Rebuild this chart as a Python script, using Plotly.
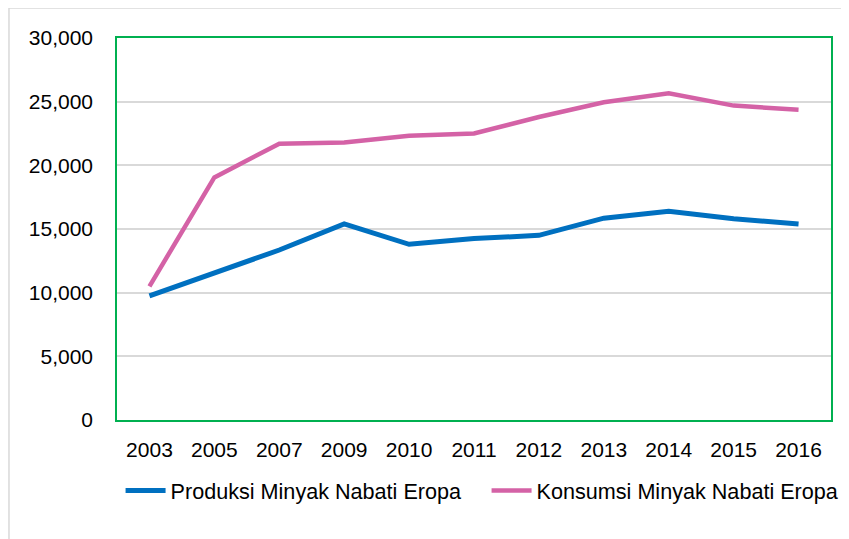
import plotly.graph_objects as go

years = ["2003", "2005", "2007", "2009", "2010", "2011", "2012", "2013", "2014", "2015", "2016"]
produksi = [9750, 11550, 13350, 15400, 13800, 14250, 14500, 15850, 16400, 15800, 15400]
konsumsi = [10500, 19050, 21700, 21800, 22330, 22500, 23800, 24950, 25650, 24690, 24370]
y_ticks = [0, 5000, 10000, 15000, 20000, 25000, 30000]

FONT = "Liberation Sans"

fig = go.Figure()
fig.add_trace(go.Scatter(x=years, y=produksi, mode="lines", name="Produksi Minyak Nabati Eropa",
                         line=dict(color="#0070C0", width=5), legend="legend"))
fig.add_trace(go.Scatter(x=years, y=konsumsi, mode="lines", name="Konsumsi Minyak Nabati Eropa",
                         line=dict(color="#D462A6", width=4.5), legend="legend2"))

legend_style = dict(orientation="h", xanchor="left", y=-0.131, yanchor="top",
                    font=dict(family=FONT, size=21.6, color="#000000"), itemwidth=40,
                    bgcolor="rgba(0,0,0,0)")

fig.update_layout(
    width=841, height=531,
    margin=dict(l=109, r=18, t=30, b=119, autoexpand=False),
    paper_bgcolor="white", plot_bgcolor="white",
    font=dict(family=FONT, size=21, color="#000000"),
    showlegend=True,
    legend=dict(x=0.005, **legend_style),
    legend2=dict(x=0.5176, **legend_style),
    shapes=[
        dict(type="line", xref="paper", yref="paper", x0=-0.1513, x1=1.2, y0=1.0785, y1=1.0785,
             line=dict(color="#d9d9d9", width=1.5)),
        dict(type="line", xref="paper", yref="paper", x0=-0.1513, x1=-0.1513, y0=-0.4, y1=1.0785,
             line=dict(color="#d9d9d9", width=1.5)),
    ],
)
fig.update_xaxes(type="category", range=[-0.5, 10.5], automargin=False, showgrid=False,
                 showline=True, mirror=True,
                 linecolor="#00B050", linewidth=1.5, ticks="", ticklabelstandoff=10,
                 tickfont=dict(family=FONT, size=21, color="#000000"))
fig.update_yaxes(range=[0, 30000], tickvals=y_ticks, tickformat=",", automargin=False,
                 showgrid=True,
                 gridcolor="#d9d9d9", gridwidth=1.5, showline=True, mirror=True,
                 linecolor="#00B050", linewidth=1.5, ticks="", ticklabelstandoff=18,
                 zeroline=False, tickfont=dict(family=FONT, size=21, color="#000000"))

fig.write_html("out.html")
